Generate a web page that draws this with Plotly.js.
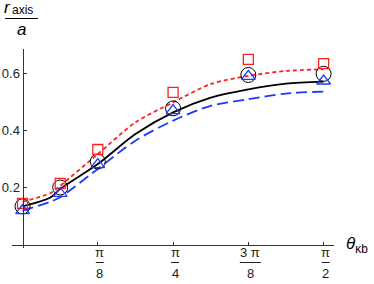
<!DOCTYPE html>
<html>
<head>
<meta charset="utf-8">
<script src="https://cdn.plot.ly/plotly-3.0.1.min.js"></script>
<style>html,body{margin:0;padding:0;background:#fff;}#chart{width:374px;height:284px;}</style>
</head>
<body>
<div id="chart"></div>
<script>
var PI = Math.PI;
// sample points (theta in rad)
var xPts = [0, PI/16, PI/8, PI/4, 3*PI/8, PI/2];
var circleY = [0.134, 0.200, 0.291, 0.477, 0.594, 0.598];
var squareY = [0.144, 0.214, 0.333, 0.533, 0.649, 0.634];
var triangleY = [0.119, 0.179, 0.280, 0.469, 0.589, 0.573];

// curves
var xCurve = [0, 0.145, PI/16, PI/8, 3*PI/16, PI/4, 5*PI/16, 3*PI/8, 7*PI/16, PI/2];
var blackY = [0.134, 0.165, 0.195, 0.282, 0.387, 0.463, 0.515, 0.544, 0.564, 0.571];
var redY   = [0.150, 0.180, 0.206, 0.317, 0.428, 0.498, 0.562, 0.591, 0.608, 0.614];
var blueY  = [0.119, 0.150, 0.166, 0.265, 0.364, 0.434, 0.486, 0.509, 0.529, 0.536];

// x tick labels
var tickVals = [PI/8, PI/4, 3*PI/8, PI/2];
var tickNum = ["\u03c0", "\u03c0", "3 \u03c0", "\u03c0"];
var tickDen = ["8", "4", "8", "2"];
var yTickVals = [0.2, 0.4, 0.6];
var yTickText = ["0.2", "0.4", "0.6"];

var W = 374, H = 284;
var mL = 12, mR = 40, mT = 49, mB = 36;
var pw = W - mL - mR, ph = H - mT - mB;
var xr = [-0.055, 1.625], yr = [-0.012, 0.685];
function px2paperX(px){ return (px - mL) / pw; }
function py2paperY(py){ return (H - mB - py) / ph; }
var pxPerRad = pw / (xr[1] - xr[0]);

var font = "Liberation Sans, Arial, sans-serif";

var traces = [
  {x: xCurve, y: redY, mode: 'lines', line: {color: '#ff2020', width: 1.8, dash: '4px,3px', shape: 'spline', smoothing: 0.8}, hoverinfo: 'skip'},
  {x: xCurve, y: blueY, mode: 'lines', line: {color: '#1a3aff', width: 1.8, dash: '11px,5px', shape: 'spline', smoothing: 0.8}, hoverinfo: 'skip'},
  {x: xCurve, y: blackY, mode: 'lines', line: {color: '#000', width: 1.8, shape: 'spline', smoothing: 0.8}, hoverinfo: 'skip'},
  {x: xPts, y: circleY, mode: 'markers', marker: {symbol: 'circle-open', size: 15, color: '#000', line: {width: 1, color: '#000'}}},
  {x: xPts, y: squareY, mode: 'markers', marker: {symbol: 'square-open', size: 10, color: '#ff2020', line: {width: 1.3, color: '#ff2020'}}},
  {x: xPts, y: triangleY, mode: 'markers', marker: {symbol: 'triangle-up-open', size: 12, color: '#1a3aff', line: {width: 1.3, color: '#1a3aff'}}}
];

var annotations = [];
var shapes = [];
for (var i = 0; i < tickVals.length; i++) {
  annotations.push({x: tickVals[i], xref: 'x', y: py2paperY(252.5), yref: 'paper', text: tickNum[i], showarrow: false, xanchor: 'center', yanchor: 'middle', xshift: 2, font: {family: font, size: 13, color: '#222'}});
  annotations.push({x: tickVals[i], xref: 'x', y: py2paperY(273), yref: 'paper', text: tickDen[i], showarrow: false, xanchor: 'center', yanchor: 'middle', xshift: 2, font: {family: font, size: 13, color: '#222'}});
  var hw = (tickNum[i].length > 1 ? 10.5 : 4) / pxPerRad;
  var off = 2 / pxPerRad;
  shapes.push({type: 'line', xref: 'x', yref: 'paper', x0: tickVals[i] - hw + off, x1: tickVals[i] + hw + off, y0: py2paperY(262.5), y1: py2paperY(262.5), line: {color: '#222', width: 1}});
}
// y label fraction r_axis / a
annotations.push({x: px2paperX(3), xref: 'paper', y: py2paperY(7.5), yref: 'paper', xanchor: 'left', yanchor: 'middle', text: '<i>r</i>', showarrow: false, borderpad: 0, font: {family: font, size: 17, color: '#000'}});
annotations.push({x: px2paperX(10), xref: 'paper', y: py2paperY(10), yref: 'paper', xanchor: 'left', yanchor: 'middle', text: 'axis', showarrow: false, font: {family: font, size: 12, color: '#000'}});
shapes.push({type: 'line', xref: 'paper', yref: 'paper', x0: px2paperX(5), x1: px2paperX(38), y0: py2paperY(18.5), y1: py2paperY(18.5), line: {color: '#000', width: 1}});
annotations.push({x: px2paperX(21), xref: 'paper', y: py2paperY(30), yref: 'paper', xanchor: 'center', yanchor: 'middle', text: '<i>a</i>', showarrow: false, font: {family: font, size: 17, color: '#000'}});
// x label
annotations.push({x: px2paperX(344), xref: 'paper', y: py2paperY(245), yref: 'paper', xanchor: 'left', yanchor: 'middle', text: '<i>\u03b8</i><sub>\u03bab</sub>', showarrow: false, font: {family: font, size: 17, color: '#000'}});

var yAxisPos = (0 - xr[0]) / (xr[1] - xr[0]);
var xAxisPos = (0 - yr[0]) / (yr[1] - yr[0]);

var layout = {
  width: W, height: H,
  margin: {l: mL, r: mR, t: mT, b: mB},
  paper_bgcolor: '#fff', plot_bgcolor: '#fff',
  showlegend: false,
  xaxis: {range: xr, showgrid: false, zeroline: false, showline: true, linecolor: '#333', linewidth: 1,
          anchor: 'free', position: xAxisPos, tickvals: tickVals, ticks: 'inside', ticklen: 3, tickcolor: '#333', showticklabels: false},
  yaxis: {range: yr, showgrid: false, zeroline: false, showline: true, linecolor: '#333', linewidth: 1,
          anchor: 'free', position: yAxisPos, tickvals: yTickVals, ticktext: yTickText, ticks: 'inside', ticklen: 3, tickcolor: '#333',
          tickfont: {family: font, size: 13, color: '#222'}},
  annotations: annotations,
  shapes: shapes
};

Plotly.newPlot('chart', traces, layout, {displayModeBar: false, staticPlot: true});
</script>
</body>
</html>
